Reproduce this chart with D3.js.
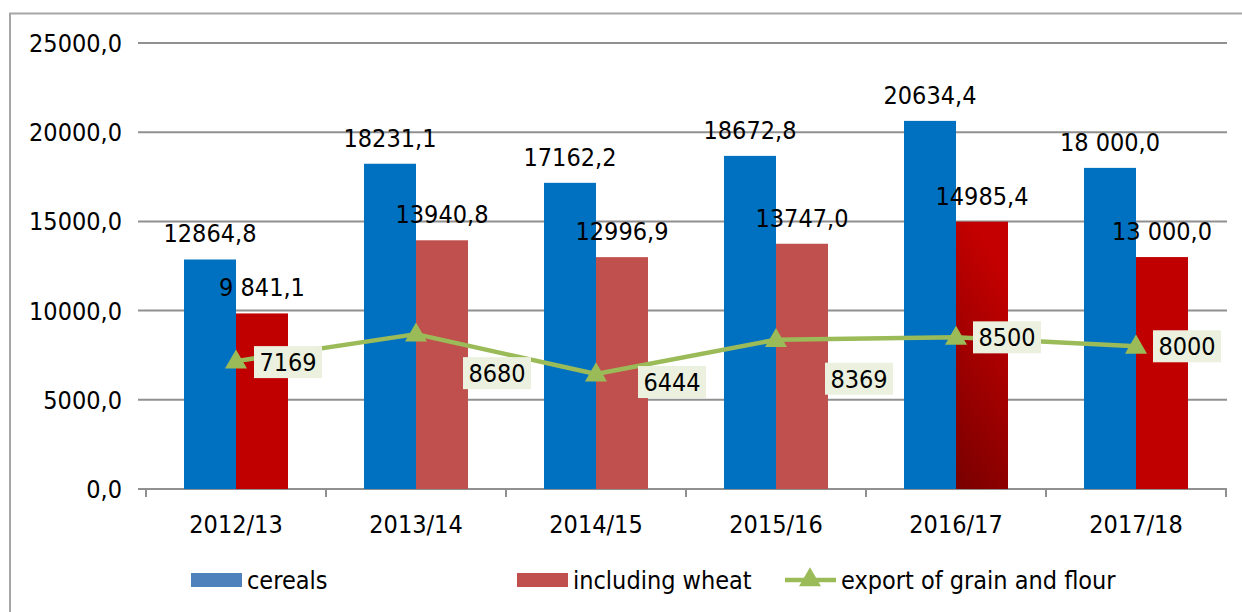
<!DOCTYPE html>
<html>
<head>
<meta charset="utf-8">
<script src="https://cdn.jsdelivr.net/npm/d3@7"></script>
<style>
  body { margin: 0; background: #fff; }
  text { font-family: 'DejaVu Sans Condensed', 'DejaVu Sans', sans-serif; font-stretch: condensed; fill: #000; }
</style>
</head>
<body>
<div id="hook-grain"></div>
<script>
'use strict';

var years = ['2012/13', '2013/14', '2014/15', '2015/16', '2016/17', '2017/18'];
var cereals = [12864.8, 18231.1, 17162.2, 18672.8, 20634.4, 18000.0];
var wheat = [9841.1, 13940.8, 12996.9, 13747.0, 14985.4, 13000.0];
var exportGrain = [7169, 8680, 6444, 8369, 8500, 8000];
var cerealLabels = ['12864,8', '18231,1', '17162,2', '18672,8', '20634,4', '18 000,0'];
var wheatLabels = ['9 841,1', '13940,8', '12996,9', '13747,0', '14985,4', '13 000,0'];
var yTicks = [0, 5000, 10000, 15000, 20000, 25000];
var legendNames = ['cereals', 'including wheat', 'export of grain and flour'];

// label offsets for the export line (layout only)
var exportLabelOffset = [[52, 1], [81, 39], [76, 8], [83, 39], [51, 0], [51, 0]];

(function() {

var options = {
  width: 1242,
  height: 612,
  left: 146,
  right: 1226,
  top: 43,
  bottom: 489,
  fontSize: 25
};

var blue = '#0070C0',
  darkRed = '#C00000',
  softRed = '#C0504D',
  green = '#9BBB59',
  gridColor = '#909090';

var wheatFill = ['dark', 'soft', 'soft', 'soft', 'gradient', 'dark'];

var svg = d3.select('#hook-grain')
  .append('svg')
  .attr('width', options.width)
  .attr('height', options.height);

var defs = svg.append('defs');
var grad = defs.append('linearGradient')
  .attr('id', 'wheatGrad')
  .attr('x1', '0.3').attr('y1', '0')
  .attr('x2', '0').attr('y2', '1');
grad.append('stop').attr('offset', '0%').attr('stop-color', '#C40000');
grad.append('stop').attr('offset', '100%').attr('stop-color', '#780000');

// outer frame
svg.append('path')
  .attr('d', 'M10,' + options.height + 'V13.5H' + options.width)
  .style('fill', 'none')
  .style('stroke', '#A6A6A6')
  .style('stroke-width', 2);

var x = d3.scaleBand()
  .domain(years)
  .range([options.left, options.right]);

var y = d3.scaleLinear()
  .domain([0, 25000])
  .range([options.bottom, options.top]);

var barW = 52;

var fmt = d3.formatLocale({ decimal: ',', thousands: '', grouping: [3], currency: ['', ''] }).format('.1f');

// gridlines
svg.append('g')
  .selectAll('line')
  .data(yTicks)
  .enter()
  .append('line')
  .attr('x1', 138)
  .attr('x2', 1227)
  .attr('y1', function(d) { return y(d); })
  .attr('y2', function(d) { return y(d); })
  .style('stroke', gridColor)
  .style('stroke-width', 2);

// y labels
svg.append('g')
  .selectAll('text')
  .data(yTicks)
  .enter()
  .append('text')
  .attr('x', 122)
  .attr('y', function(d) { return y(d); })
  .attr('dy', '0.36em')
  .attr('text-anchor', 'end')
  .style('font-size', options.fontSize + 'px')
  .text(function(d) { return fmt(d); });

// x axis ticks
var xAxis = d3.axisBottom(x).tickSize(0).tickFormat('');
var gx = svg.append('g')
  .attr('transform', 'translate(0,' + options.bottom + ')')
  .call(xAxis);
gx.select('.domain').remove();

var edges = years.map(function(d) { return x(d); }).concat([options.right]);
svg.append('g')
  .selectAll('line')
  .data(edges)
  .enter()
  .append('line')
  .attr('x1', function(d) { return d; })
  .attr('x2', function(d) { return d; })
  .attr('y1', options.bottom)
  .attr('y2', options.bottom + 8)
  .style('stroke', gridColor)
  .style('stroke-width', 2);

svg.append('g')
  .selectAll('text')
  .data(years)
  .enter()
  .append('text')
  .attr('x', function(d) { return x(d) + x.bandwidth() / 2; })
  .attr('y', 533)
  .attr('text-anchor', 'middle')
  .style('font-size', options.fontSize + 'px')
  .text(function(d) { return d; });

// bars
var center = function(i) { return x(years[i]) + x.bandwidth() / 2; };

svg.append('g')
  .selectAll('rect')
  .data(cereals)
  .enter()
  .append('rect')
  .attr('x', function(d, i) { return center(i) - barW; })
  .attr('y', function(d) { return y(d); })
  .attr('width', barW)
  .attr('height', function(d) { return options.bottom - y(d); })
  .style('fill', blue);

svg.append('g')
  .selectAll('rect')
  .data(wheat)
  .enter()
  .append('rect')
  .attr('x', function(d, i) { return center(i); })
  .attr('y', function(d) { return y(d); })
  .attr('width', barW)
  .attr('height', function(d) { return options.bottom - y(d); })
  .style('fill', function(d, i) {
    var f = wheatFill[i];
    return f == 'dark' ? darkRed : (f == 'soft' ? softRed : 'url(#wheatGrad)');
  });

// bar labels
svg.append('g')
  .selectAll('text')
  .data(cereals)
  .enter()
  .append('text')
  .attr('x', function(d, i) { return center(i) - barW / 2; })
  .attr('y', function(d) { return y(d) - 17; })
  .attr('text-anchor', 'middle')
  .style('font-size', options.fontSize + 'px')
  .text(function(d, i) { return cerealLabels[i]; });

svg.append('g')
  .selectAll('text')
  .data(wheat)
  .enter()
  .append('text')
  .attr('x', function(d, i) { return center(i) + barW / 2; })
  .attr('y', function(d) { return y(d) - 17; })
  .attr('text-anchor', 'middle')
  .style('font-size', options.fontSize + 'px')
  .text(function(d, i) { return wheatLabels[i]; });

// export line
var line = d3.line()
  .x(function(d, i) { return center(i); })
  .y(function(d) { return y(d); });

svg.append('path')
  .datum(exportGrain)
  .attr('d', line)
  .style('fill', 'none')
  .style('stroke', green)
  .style('stroke-width', 4.5)
  .style('stroke-linejoin', 'round');

var tri = d3.symbol().type(d3.symbolTriangle).size(210);

svg.append('g')
  .selectAll('path')
  .data(exportGrain)
  .enter()
  .append('path')
  .attr('d', tri)
  .attr('transform', function(d, i) { return 'translate(' + center(i) + ',' + (y(d) + 1) + ')'; })
  .style('fill', green);

var lbl = svg.append('g')
  .selectAll('g')
  .data(exportGrain)
  .enter()
  .append('g')
  .attr('transform', function(d, i) {
    var o = exportLabelOffset[i];
    return 'translate(' + (center(i) + o[0]) + ',' + (y(d) + o[1]) + ')';
  });

lbl.append('rect')
  .attr('x', -34)
  .attr('y', -16)
  .attr('width', 68)
  .attr('height', 32)
  .style('fill', '#EBF1DE');

lbl.append('text')
  .attr('text-anchor', 'middle')
  .attr('dy', '0.36em')
  .style('font-size', options.fontSize + 'px')
  .text(function(d) { return d; });

// legend
var legend = svg.append('g');
var legendX = [191, 517, 785];

legend.append('rect')
  .attr('x', legendX[0]).attr('y', 573)
  .attr('width', 51).attr('height', 14)
  .style('fill', '#4F81BD');

legend.append('rect')
  .attr('x', legendX[1]).attr('y', 573)
  .attr('width', 51).attr('height', 14)
  .style('fill', softRed);

legend.append('line')
  .attr('x1', legendX[2]).attr('x2', legendX[2] + 51)
  .attr('y1', 580).attr('y2', 580)
  .style('stroke', green)
  .style('stroke-width', 4.5);

legend.append('path')
  .attr('d', tri)
  .attr('transform', 'translate(' + (legendX[2] + 25) + ',580)')
  .style('fill', green);

legend.selectAll('text')
  .data(legendNames)
  .enter()
  .append('text')
  .attr('x', function(d, i) { return legendX[i] + 56; })
  .attr('y', 580)
  .attr('dy', '0.36em')
  .style('font-size', '25px')
  .text(function(d) { return d; });

}());
</script>
</body>
</html>
